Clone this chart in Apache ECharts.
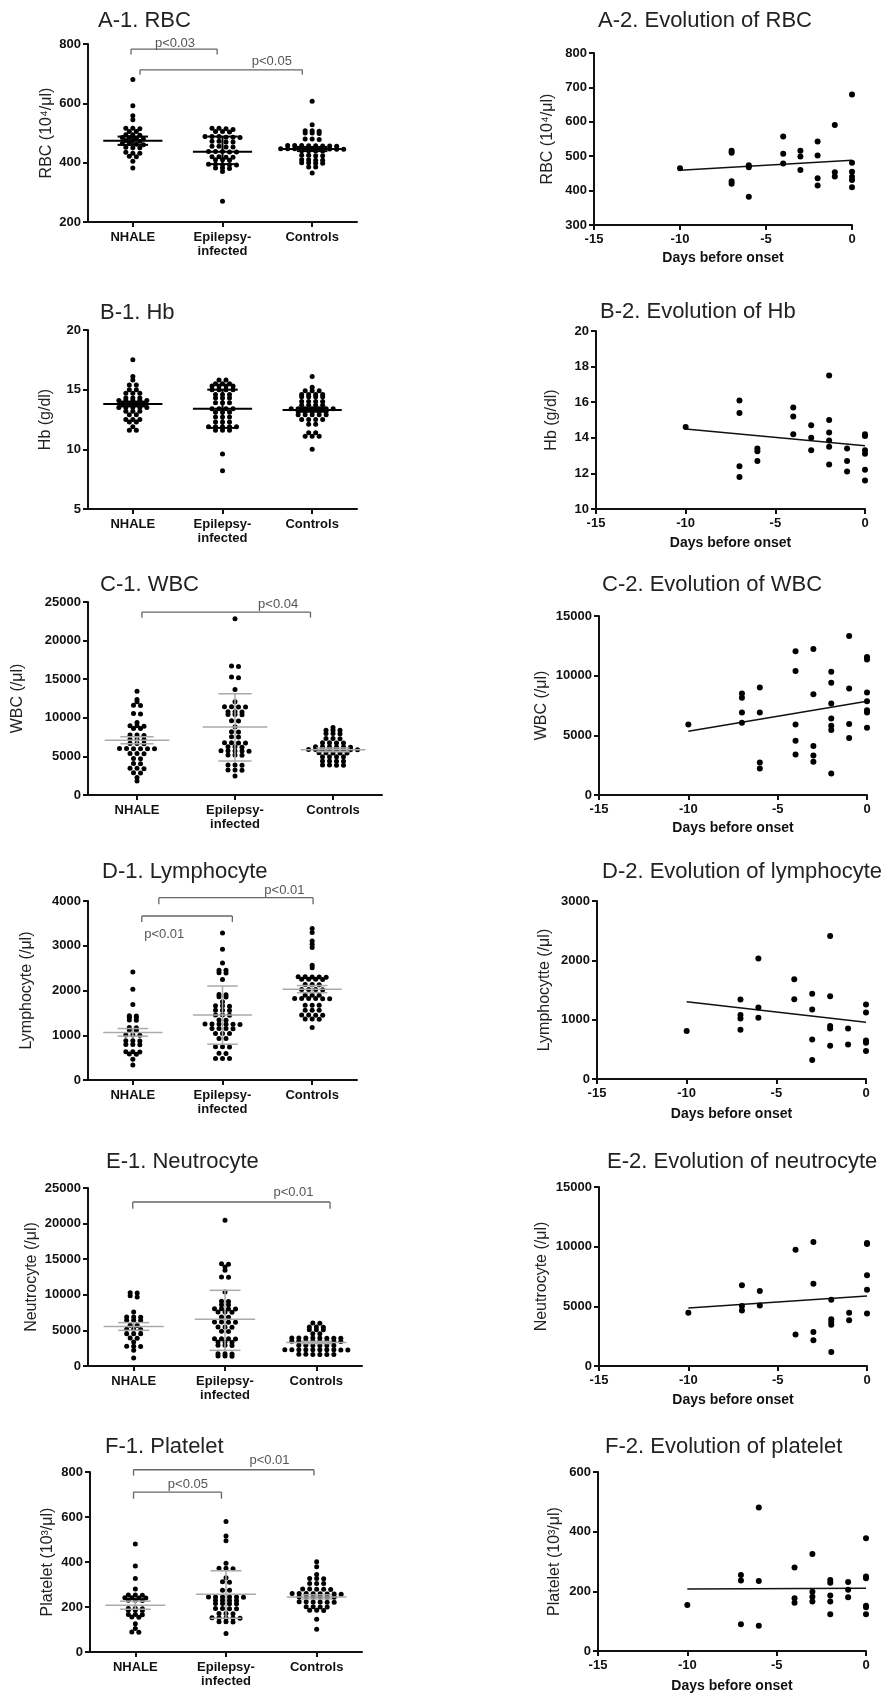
<!DOCTYPE html>
<html>
<head>
<meta charset="utf-8">
<script src="https://cdn.jsdelivr.net/npm/echarts@6/dist/echarts.min.js"></script>
<style>
html, body { margin: 0; padding: 0; background: #fff; }
#chart { width: 888px; height: 1694px; }
</style>
</head>
<body>
<div id="chart"></div>
<script>
const FONT = '"Liberation Sans", Arial, sans-serif';
const groupNames = ['NHALE', 'Epilepsy-\ninfected', 'Controls'];
const fitDays = [-10, 0];

// A. RBC (10^4/ul)
const rbcNhale = [680, 592, 558, 545, 516, 516, 514, 505, 505, 494, 494, 492, 485, 485, 482, 480, 475, 475, 472, 465, 465, 462, 460, 452, 450, 450, 435, 432, 432, 422, 420, 405, 382];
const rbcEpilepsy = [516, 516, 514, 512, 505, 505, 503, 488, 488, 488, 486, 486, 485, 472, 472, 470, 470, 455, 455, 453, 453, 438, 438, 438, 436, 436, 420, 420, 418, 418, 410, 410, 408, 395, 395, 393, 393, 392, 382, 382, 380, 370, 270];
const rbcControls = [607, 528, 508, 508, 506, 500, 500, 498, 480, 480, 478, 458, 458, 458, 457, 457, 456, 456, 455, 447, 447, 447, 447, 447, 446, 446, 446, 445, 445, 440, 440, 439, 439, 425, 425, 423, 423, 410, 410, 408, 408, 400, 400, 398, 398, 385, 385, 365];
const rbcMean = [474, 437, 446];
const rbcLow = [460, 395, 439];
const rbcHigh = [488, 488, 453];
const rbcDays = [-10, -7, -7, -7, -7, -6, -6, -6, -4, -4, -4, -3, -3, -3, -2, -2, -2, -2, -1, -1, -1, 0, 0, 0, 0, 0, 0];
const rbcTrend = [465, 516, 510, 427, 420, 474, 468, 382, 557, 507, 479, 516, 499, 460, 543, 502, 436, 415, 591, 453, 441, 679, 481, 455, 440, 431, 410];
const rbcFit = [459, 488];

// B. Hb (g/dl)
const hbNhale = [17.5, 16.1, 15.8, 15.4, 15.4, 15.0, 15.0, 14.7, 14.7, 14.7, 14.3, 14.3, 14.3, 14.1, 14.1, 14.1, 14.1, 14.1, 13.8, 13.8, 13.8, 13.8, 13.5, 13.5, 13.5, 13.5, 13.5, 13.2, 13.2, 13.2, 12.9, 12.9, 12.5, 12.5, 12.5, 12.3, 12.3, 11.9, 11.6, 11.6];
const hbEpilepsy = [15.8, 15.8, 15.5, 15.5, 15.5, 15.3, 15.3, 15.3, 15.3, 15.0, 15.0, 15.0, 15.0, 14.6, 14.6, 14.6, 14.3, 14.3, 14.3, 13.9, 13.9, 13.9, 13.4, 13.4, 13.4, 13.4, 13.1, 13.1, 13.1, 12.7, 12.7, 12.7, 12.3, 12.3, 12.3, 11.9, 11.9, 11.9, 11.9, 11.9, 11.6, 11.6, 11.6, 9.6, 8.2];
const hbControls = [16.1, 15.2, 14.9, 14.9, 14.9, 14.6, 14.6, 14.6, 14.6, 14.4, 14.4, 14.4, 14.4, 14.0, 14.0, 14.0, 14.0, 13.7, 13.7, 13.7, 13.7, 13.4, 13.4, 13.4, 13.4, 13.4, 13.4, 13.4, 13.2, 13.2, 13.2, 13.2, 13.2, 12.9, 12.9, 12.9, 12.9, 12.9, 12.5, 12.5, 12.5, 12.5, 12.1, 12.1, 11.4, 11.4, 11.1, 11.1, 11.1, 10.0];
const hbMean = [13.8, 13.4, 13.3];
const hbLow = [13.6, 11.8, 13.15];
const hbHigh = [14.0, 15.0, 13.45];
const hbDays = [-10, -7, -7, -7, -7, -6, -6, -6, -4, -4, -4, -3, -3, -3, -2, -2, -2, -2, -2, -2, -1, -1, -1, 0, 0, 0, 0, 0, 0];
const hbTrend = [14.6, 16.1, 15.4, 12.4, 11.8, 13.4, 13.25, 12.7, 15.7, 15.2, 14.2, 14.7, 14.0, 13.3, 17.5, 15.0, 14.3, 13.85, 13.5, 12.5, 13.4, 12.7, 12.1, 14.2, 14.1, 13.3, 13.1, 12.2, 11.6];
const hbFit = [14.5, 13.55];

// C. WBC (/ul)
const wbcNhale = [13450, 12370, 12070, 11640, 11600, 10560, 10500, 9400, 8960, 8960, 8900, 8620, 8600, 7760, 7760, 7700, 7200, 7200, 7150, 6680, 6680, 6650, 6030, 6030, 6000, 6000, 5980, 5980, 5390, 5390, 5350, 4740, 4700, 4090, 4050, 3450, 3450, 3400, 2890, 2850, 2280, 1810];
const wbcEpilepsy = [22840, 16720, 16650, 15300, 15200, 13660, 12070, 11420, 11420, 11400, 11400, 10780, 10780, 10750, 10430, 10430, 10400, 9610, 9600, 8830, 8190, 8150, 7540, 7500, 6770, 6770, 6750, 6750, 6250, 6250, 6200, 5730, 5730, 5700, 5700, 5680, 5170, 5170, 5150, 3880, 3880, 3850, 3230, 3230, 3200, 2460];
const wbcControls = [8750, 8400, 8400, 8380, 7970, 7970, 7950, 7330, 7330, 7300, 6770, 6770, 6750, 6750, 6250, 6250, 6250, 6220, 6220, 6200, 5900, 5900, 5900, 5880, 5880, 5870, 5870, 5850, 5470, 5470, 5450, 5450, 5430, 4960, 4960, 4940, 4940, 4400, 4400, 4380, 4380, 3880, 3880, 3860, 3860];
const wbcMean = [7100, 8800, 5850];
const wbcLow = [6650, 4400, 5600];
const wbcHigh = [7550, 13100, 6100];
const wbcDays = [-10, -7, -7, -7, -7, -6, -6, -6, -6, -4, -4, -4, -4, -4, -3, -3, -3, -3, -3, -2, -2, -2, -2, -2, -2, -2, -1, -1, -1, -1, 0, 0, 0, 0, 0, 0, 0];
const wbcTrend = [5910, 8500, 8140, 6910, 6050, 9000, 6910, 2730, 2230, 12040, 10400, 5910, 4540, 3400, 12240, 8450, 4100, 3320, 2790, 10320, 9400, 7670, 6410, 5800, 5440, 1810, 13330, 8920, 5940, 4770, 11570, 11350, 8590, 7860, 7110, 6910, 5630];
const wbcFit = [5350, 7860];

// D. Lymphocyte (/ul)
const lymNhale = [2416, 2030, 1688, 1435, 1430, 1400, 1395, 1340, 1335, 1175, 1170, 1115, 1110, 1004, 1004, 1000, 877, 877, 870, 795, 795, 790, 632, 632, 628, 580, 575, 461, 335];
const lymEpilepsy = [3286, 2922, 2617, 2453, 2450, 2394, 2390, 2245, 1911, 1905, 1859, 1855, 1747, 1658, 1658, 1650, 1561, 1561, 1555, 1450, 1450, 1445, 1338, 1335, 1249, 1249, 1249, 1245, 1245, 1240, 1152, 1152, 1150, 1148, 1041, 1041, 1038, 929, 925, 743, 743, 740, 595, 590, 483, 483, 480];
const lymControls = [3383, 3294, 3108, 3033, 2959, 2565, 2506, 2305, 2305, 2300, 2300, 2298, 2253, 2253, 2250, 2248, 2134, 2134, 2130, 2022, 2022, 2020, 2018, 1896, 1896, 1892, 1822, 1822, 1820, 1820, 1818, 1816, 1673, 1673, 1670, 1561, 1561, 1558, 1450, 1450, 1448, 1446, 1361, 1361, 1358, 1175];
const lymMean = [1060, 1450, 2030];
const lymLow = [980, 800, 1950];
const lymHigh = [1150, 2100, 2110];
const lymDays = [-10, -7, -7, -7, -7, -6, -6, -6, -4, -4, -3, -3, -3, -3, -2, -2, -2, -2, -2, -1, -1, 0, 0, 0, 0, 0];
const lymTrend = [807, 1340, 1077, 1020, 830, 2030, 1205, 1032, 1682, 1346, 1435, 1172, 667, 320, 2411, 1396, 892, 852, 561, 852, 583, 1256, 1121, 650, 610, 470];
const lymFit = [1300, 955];

// E. Neutrocyte (/ul)
const neuNhale = [10300, 10250, 9850, 9700, 7580, 6880, 6880, 6850, 6410, 6410, 6380, 5710, 5700, 5150, 5150, 5120, 4540, 4540, 4520, 3930, 3900, 3370, 2760, 2760, 2740, 2200, 1120];
const neuEpilepsy = [20460, 14370, 14300, 13900, 13440, 12500, 12450, 10390, 9080, 9050, 8610, 8600, 8050, 8050, 8020, 8000, 7580, 7580, 7550, 6880, 6850, 6180, 6180, 6150, 6150, 5480, 5480, 5450, 4870, 4850, 3840, 3840, 3820, 3800, 3370, 3370, 3350, 2900, 2900, 2880, 1730, 1730, 1700, 1400, 1400, 1380];
const neuControls = [6040, 6000, 5480, 5480, 5450, 5100, 5100, 5080, 4540, 4520, 3930, 3930, 3930, 3920, 3920, 3910, 3910, 3900, 3460, 3460, 3460, 3450, 3450, 3440, 3440, 3430, 2900, 2900, 2890, 2890, 2880, 2880, 2290, 2290, 2290, 2280, 2280, 2280, 2270, 2270, 2260, 2260, 1640, 1640, 1630, 1630, 1620, 1620];
const neuMean = [5550, 6550, 3300];
const neuLow = [5010, 2200, 3150];
const neuHigh = [6090, 10630, 3450];
const neuDays = [-10, -7, -7, -7, -6, -6, -4, -4, -3, -3, -3, -3, -2, -2, -2, -2, -2, -1, -1, 0, 0, 0, 0, 0];
const neuTrend = [4470, 6760, 5030, 4660, 6280, 5080, 9750, 2630, 10390, 6900, 2850, 2150, 5560, 3910, 3690, 3460, 1170, 4470, 3830, 10310, 10220, 7600, 6400, 4390];
const neuFit = [4860, 5870];

// F. Platelet (10^3/ul)
const pltNhale = [480, 382, 327, 280, 253, 253, 252, 241, 241, 240, 240, 230, 230, 229, 193, 193, 192, 186, 186, 185, 167, 167, 166, 156, 155, 126, 104, 89, 88];
const pltEpilepsy = [580, 516, 494, 394, 372, 372, 370, 330, 312, 310, 275, 274, 245, 245, 245, 244, 244, 243, 230, 230, 229, 229, 216, 216, 215, 215, 193, 193, 192, 192, 171, 171, 170, 152, 152, 151, 151, 150, 134, 134, 133, 82];
const pltControls = [401, 379, 345, 327, 327, 326, 305, 305, 304, 280, 280, 279, 279, 278, 260, 260, 260, 259, 259, 258, 258, 257, 245, 245, 244, 244, 243, 243, 223, 223, 222, 222, 221, 221, 201, 201, 200, 200, 186, 186, 185, 146, 101];
const pltMean = [208, 257, 245];
const pltLow = [190, 150, 236];
const pltHigh = [226, 361, 254];
const pltDays = [-10, -7, -7, -7, -6, -6, -6, -4, -4, -4, -3, -3, -3, -3, -2, -2, -2, -2, -2, -1, -1, -1, 0, 0, 0, 0, 0, 0];
const pltTrend = [154, 255, 236, 90, 481, 235, 85, 280, 177, 162, 325, 199, 182, 166, 238, 229, 186, 166, 123, 231, 205, 180, 378, 250, 244, 152, 147, 123];
const pltFit = [208, 210];

const option = {
  animation: false,
  backgroundColor: '#fff',
  graphic: [],
  grid: [],
  xAxis: [],
  yAxis: [],
  series: []
};

const axisText = { color: '#111', fontWeight: 'bold', fontSize: 13, fontFamily: FONT };
const axisLineStyle = { show: true, onZero: false, lineStyle: { color: '#111', width: 2 } };
const axisTickStyle = { show: true, length: 5, lineStyle: { color: '#111', width: 2 } };
const plainNumber = v => String(v);

function addTitle(text, x, y) {
  option.graphic.push({
    type: 'text', x: x, y: y, silent: true,
    style: { text: text, font: '22px ' + FONT, fill: '#222', verticalAlign: 'middle' }
  });
}

function yAxisFor(gi, p) {
  return {
    type: 'value', gridIndex: gi, min: p.yMin, max: p.yMax, interval: p.yStep,
    name: p.yName, nameLocation: 'middle', nameGap: p.nameGap,
    nameTextStyle: { fontSize: 16, fontFamily: FONT, color: '#222' },
    axisLine: axisLineStyle, axisTick: axisTickStyle,
    axisLabel: Object.assign({ margin: 7, formatter: plainNumber }, axisText),
    splitLine: { show: false }
  };
}

// spread tied values sideways like a dot plot (rows of points)
function swarm(values, idx, pxPerUnit, bandPx) {
  const sorted = values.slice().sort((a, b) => b - a);
  const rows = [];
  sorted.forEach(v => {
    const last = rows[rows.length - 1];
    if (last && (last[0] - v) * pxPerUnit <= 1.5) last.push(v);
    else rows.push([v]);
  });
  const out = [];
  rows.forEach(row => {
    row.forEach((v, i) => {
      out.push([idx + (i - (row.length - 1) / 2) * 7 / bandPx, v]);
    });
  });
  return out;
}

function segSeries(xi, yi, segs, color, width) {
  return {
    type: 'custom', xAxisIndex: xi, yAxisIndex: yi, clip: false, silent: true, z: 4,
    encode: { x: [0, 2], y: [1, 3] },
    data: segs,
    renderItem: (params, api) => {
      const a = api.coord([api.value(0), api.value(1)]);
      const b = api.coord([api.value(2), api.value(3)]);
      return {
        type: 'line',
        shape: { x1: a[0], y1: a[1], x2: b[0], y2: b[1] },
        style: { stroke: color, lineWidth: width }
      };
    }
  };
}

function textSeries(xi, yi, items) {
  return {
    type: 'custom', xAxisIndex: xi, yAxisIndex: yi, clip: false, silent: true, z: 5,
    data: items.map(t => [t[0], t[1]]),
    renderItem: (params, api) => {
      const a = api.coord([api.value(0), api.value(1)]);
      return {
        type: 'text', x: a[0], y: a[1],
        style: { text: items[params.dataIndex][2], fill: '#555', font: '13px ' + FONT, align: 'center', verticalAlign: 'middle' }
      };
    }
  };
}

function dotPanel(p) {
  const gi = option.grid.length;
  const [left, top, width, height] = p.grid;
  option.grid.push({ left: left, top: top, width: width, height: height });
  option.xAxis.push({
    type: 'category', gridIndex: gi, data: groupNames, boundaryGap: true,
    axisLine: axisLineStyle,
    axisTick: Object.assign({ alignWithLabel: true, interval: 0 }, axisTickStyle),
    axisLabel: Object.assign({ lineHeight: 14, margin: 8, interval: 0 }, axisText),
    splitLine: { show: false }
  });
  const xv = option.xAxis.length;
  option.xAxis.push({ type: 'value', gridIndex: gi, min: -0.5, max: 2.5, show: false, splitLine: { show: false } });
  const yi = option.yAxis.length;
  option.yAxis.push(yAxisFor(gi, p));

  const pxPerUnit = height / (p.yMax - p.yMin);
  const band = width / 3;
  const pts = [];
  p.groups.forEach((vals, k) => swarm(vals, k, pxPerUnit, band).forEach(q => pts.push(q)));
  option.series.push({
    type: 'scatter', xAxisIndex: xv, yAxisIndex: yi, data: pts,
    symbolSize: 5, itemStyle: { color: '#000', opacity: 1 }, silent: true, z: 3
  });

  const stats = [];
  p.mean.forEach((m, k) => {
    stats.push([k - 0.33, m, k + 0.33, m]);
    stats.push([k - 0.17, p.low[k], k + 0.17, p.low[k]]);
    stats.push([k - 0.17, p.high[k], k + 0.17, p.high[k]]);
    stats.push([k, p.low[k], k, p.high[k]]);
  });
  option.series.push(segSeries(xv, yi, stats, p.statColor, p.statWidth));

  if (p.brackets) {
    const segs = [];
    p.brackets.forEach(b => {
      segs.push([b[0], b[3], b[0], b[2]]);
      segs.push([b[0], b[2], b[1], b[2]]);
      segs.push([b[1], b[2], b[1], b[3]]);
    });
    option.series.push(segSeries(xv, yi, segs, '#666', 1.3));
    option.series.push(textSeries(xv, yi, p.notes));
  }
  addTitle(p.title, p.titleX, p.titleY);
}

function trendPanel(p) {
  const gi = option.grid.length;
  const [left, top, width, height] = p.grid;
  option.grid.push({ left: left, top: top, width: width, height: height });
  const xi = option.xAxis.length;
  option.xAxis.push({
    type: 'value', gridIndex: gi, min: -15, max: 0, interval: 5,
    name: 'Days before onset', nameLocation: 'middle', nameGap: p.xNameGap,
    nameTextStyle: { fontSize: 14, fontWeight: 'bold', fontFamily: FONT, color: '#111' },
    axisLine: axisLineStyle, axisTick: axisTickStyle,
    axisLabel: Object.assign({ margin: 8, formatter: plainNumber }, axisText),
    splitLine: { show: false }
  });
  const yi = option.yAxis.length;
  option.yAxis.push(yAxisFor(gi, p));
  option.series.push({
    type: 'scatter', xAxisIndex: xi, yAxisIndex: yi,
    data: p.days.map((d, i) => [d, p.values[i]]),
    symbolSize: 6, itemStyle: { color: '#000', opacity: 1 }, silent: true, z: 3
  });
  option.series.push({
    type: 'line', xAxisIndex: xi, yAxisIndex: yi,
    data: fitDays.map((d, i) => [d, p.fit[i]]),
    showSymbol: false, symbol: 'none', silent: true, z: 2,
    lineStyle: { color: '#111', width: 1.5 }
  });
  addTitle(p.title, p.titleX, p.titleY);
}

// row A
dotPanel({
  title: 'A-1. RBC', titleX: 98, titleY: 21,
  grid: [88, 44, 269, 178], yMin: 200, yMax: 800, yStep: 200,
  yName: 'RBC (10⁴/μl)', nameGap: 33,
  groups: [rbcNhale, rbcEpilepsy, rbcControls],
  mean: rbcMean, low: rbcLow, high: rbcHigh, statColor: '#000', statWidth: 2,
  brackets: [[-0.02, 0.94, 783, 765], [0.08, 1.89, 713, 696]],
  notes: [[0.47, 803, 'p<0.03'], [1.55, 741, 'p<0.05']]
});
trendPanel({
  title: 'A-2. Evolution of RBC', titleX: 598, titleY: 21,
  grid: [594, 53, 258, 172], yMin: 300, yMax: 800, yStep: 100,
  yName: 'RBC (10⁴/μl)', nameGap: 38, xNameGap: 26,
  days: rbcDays, values: rbcTrend, fit: rbcFit
});

// row B
dotPanel({
  title: 'B-1. Hb', titleX: 100, titleY: 313,
  grid: [88, 330, 269, 179], yMin: 5, yMax: 20, yStep: 5,
  yName: 'Hb (g/dl)', nameGap: 34,
  groups: [hbNhale, hbEpilepsy, hbControls],
  mean: hbMean, low: hbLow, high: hbHigh, statColor: '#000', statWidth: 2
});
trendPanel({
  title: 'B-2. Evolution of Hb', titleX: 600, titleY: 312,
  grid: [596, 331, 269, 178], yMin: 10, yMax: 20, yStep: 2,
  yName: 'Hb (g/dl)', nameGap: 36, xNameGap: 27,
  days: hbDays, values: hbTrend, fit: hbFit
});

// row C
dotPanel({
  title: 'C-1. WBC', titleX: 100, titleY: 585,
  grid: [88, 602, 294, 193], yMin: 0, yMax: 25000, yStep: 5000,
  yName: 'WBC (/μl)', nameGap: 62,
  groups: [wbcNhale, wbcEpilepsy, wbcControls],
  mean: wbcMean, low: wbcLow, high: wbcHigh, statColor: '#aaa', statWidth: 1.5,
  brackets: [[0.05, 1.77, 23700, 22970]],
  notes: [[1.44, 24700, 'p<0.04']]
});
trendPanel({
  title: 'C-2. Evolution of WBC', titleX: 602, titleY: 585,
  grid: [599, 616, 268, 179], yMin: 0, yMax: 15000, yStep: 5000,
  yName: 'WBC (/μl)', nameGap: 49, xNameGap: 26,
  days: wbcDays, values: wbcTrend, fit: wbcFit
});

// row D
dotPanel({
  title: 'D-1. Lymphocyte', titleX: 102, titleY: 872,
  grid: [88, 901, 269, 179], yMin: 0, yMax: 4000, yStep: 1000,
  yName: 'Lymphocyte (/μl)', nameGap: 53,
  groups: [lymNhale, lymEpilepsy, lymControls],
  mean: lymMean, low: lymLow, high: lymHigh, statColor: '#aaa', statWidth: 1.5,
  brackets: [[0.29, 2.01, 4074, 3926], [0.10, 1.11, 3665, 3532]],
  notes: [[1.69, 4238, 'p<0.01'], [0.35, 3249, 'p<0.01']]
});
trendPanel({
  title: 'D-2. Evolution of lymphocyte', titleX: 602, titleY: 872,
  grid: [597, 901, 269, 178], yMin: 0, yMax: 3000, yStep: 1000,
  yName: 'Lymphocytte (/μl)', nameGap: 44, xNameGap: 28,
  days: lymDays, values: lymTrend, fit: lymFit
});

// row E
dotPanel({
  title: 'E-1. Neutrocyte', titleX: 106, titleY: 1162,
  grid: [88, 1188, 274, 178], yMin: 0, yMax: 25000, yStep: 5000,
  yName: 'Neutrocyte (/μl)', nameGap: 48,
  groups: [neuNhale, neuEpilepsy, neuControls],
  mean: neuMean, low: neuLow, high: neuHigh, statColor: '#aaa', statWidth: 1.5,
  brackets: [[-0.01, 2.15, 23035, 22100]],
  notes: [[1.75, 24440, 'p<0.01']]
});
trendPanel({
  title: 'E-2. Evolution of neutrocyte', titleX: 607, titleY: 1162,
  grid: [599, 1187, 268, 179], yMin: 0, yMax: 15000, yStep: 5000,
  yName: 'Neutrocyte (/μl)', nameGap: 49, xNameGap: 27,
  days: neuDays, values: neuTrend, fit: neuFit
});

// row F
dotPanel({
  title: 'F-1. Platelet', titleX: 105, titleY: 1447,
  grid: [90, 1472, 272, 180], yMin: 0, yMax: 800, yStep: 200,
  yName: 'Platelet (10³/μl)', nameGap: 34,
  groups: [pltNhale, pltEpilepsy, pltControls],
  mean: pltMean, low: pltLow, high: pltHigh, statColor: '#aaa', statWidth: 1.5,
  brackets: [[-0.02, 1.97, 810, 784], [-0.02, 0.95, 711, 681]],
  notes: [[1.48, 851, 'p<0.01'], [0.58, 743, 'p<0.05']]
});
trendPanel({
  title: 'F-2. Evolution of platelet', titleX: 605, titleY: 1447,
  grid: [598, 1472, 268, 179], yMin: 0, yMax: 600, yStep: 200,
  yName: 'Platelet (10³/μl)', nameGap: 35, xNameGap: 28,
  days: pltDays, values: pltTrend, fit: pltFit
});

const chart = echarts.init(document.getElementById('chart'), null, { renderer: 'canvas' });
chart.setOption(option);
</script>
</body>
</html>
